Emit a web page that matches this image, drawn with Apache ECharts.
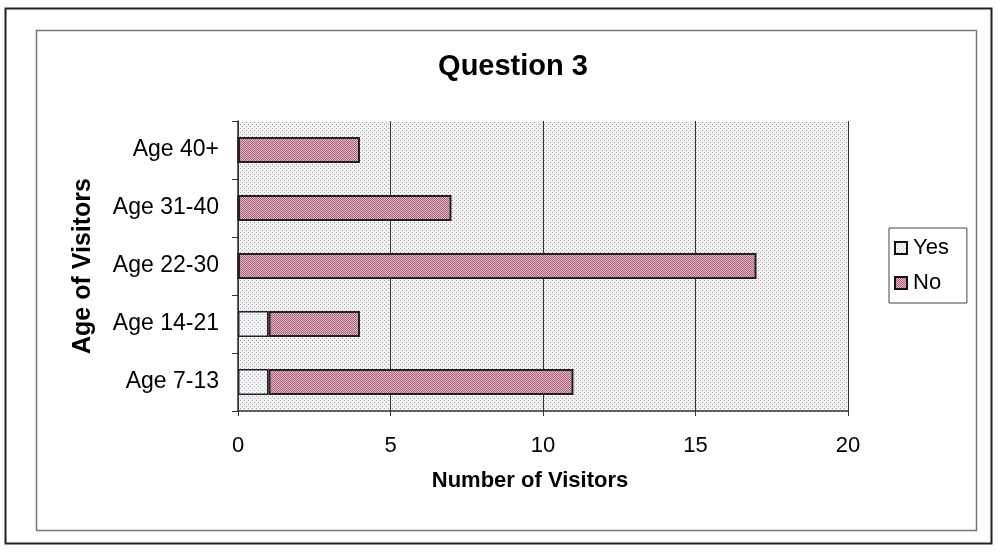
<!DOCTYPE html>
<html>
<head>
<meta charset="utf-8">
<script src="https://cdn.jsdelivr.net/npm/echarts@6/dist/echarts.min.js"></script>
<style>
html,body{margin:0;padding:0;background:#fff;}
#chart{width:1000px;height:553px;}
</style>
</head>
<body>
<div id="chart"></div>
<script>
const categories = ['Age 7-13', 'Age 14-21', 'Age 22-30', 'Age 31-40', 'Age 40+'];
const yesValues = [1, 1, 0, 0, 0];
const noValues = [10, 3, 17, 7, 4];
const xTicks = [0, 5, 10, 15, 20];

function dotPattern(base, dot, size) {
  const c = document.createElement('canvas');
  c.width = size; c.height = size;
  const g = c.getContext('2d');
  g.fillStyle = base; g.fillRect(0, 0, size, size);
  g.fillStyle = dot;
  g.fillRect(0, 0, 1, 1);
  g.fillRect(Math.floor(size / 2), Math.floor(size / 2), 1, 1);
  return { image: c, repeat: 'repeat' };
}

const bgPattern = dotPattern('#f1f1f1', '#a8a8a8', 4);
const pinkPattern = dotPattern('#e2b0c0', '#a86a80', 2);
const yesPattern = dotPattern('#f2f3f7', '#b9bcc4', 4);

const chart = echarts.init(document.getElementById('chart'), null, { renderer: 'canvas' });
const font = '"Liberation Sans", Arial, sans-serif';

chart.setOption({
  animation: false,
  textStyle: { fontFamily: font, color: '#000' },
  title: {
    text: 'Question 3',
    left: 508, top: 47, textAlign: 'center',
    textStyle: { fontFamily: font, fontSize: 29, fontWeight: 'bold', color: '#000' }
  },
  legend: {
    orient: 'vertical',
    left: 889, top: 228,
    padding: [9, 18, 9, 5],
    itemGap: 13,
    itemWidth: 12, itemHeight: 12,
    backgroundColor: '#fff',
    borderColor: '#444', borderWidth: 1,
    textStyle: { fontFamily: font, fontSize: 22, color: '#000', padding: [0, 0, 0, 1] },
    data: [
      { name: 'Yes', icon: 'rect', itemStyle: { color: yesPattern, borderColor: '#111', borderWidth: 2 } },
      { name: 'No', icon: 'rect', itemStyle: { color: pinkPattern, borderColor: '#111', borderWidth: 2 } }
    ]
  },
  grid: {
    left: 238, top: 121, right: 152, bottom: 142,
    show: true,
    backgroundColor: bgPattern,
    borderWidth: 0
  },
  xAxis: {
    type: 'value',
    min: xTicks[0], max: xTicks[xTicks.length - 1], interval: 5,
    name: 'Number of Visitors',
    nameLocation: 'middle',
    nameGap: 59,
    nameTextStyle: { fontFamily: font, fontSize: 22, fontWeight: 'bold', color: '#000', padding: [0, 26, 0, 0] },
    axisLine: { show: true, lineStyle: { color: '#333', width: 1.5 } },
    axisTick: { show: true, length: 5, lineStyle: { color: '#333' } },
    axisLabel: { fontFamily: font, fontSize: 22, color: '#000', margin: 24 },
    splitLine: { show: true, lineStyle: { color: '#333', width: 1 } }
  },
  yAxis: {
    type: 'category',
    data: categories,
    name: 'Age of Visitors',
    nameLocation: 'middle',
    nameGap: 142,
    nameRotate: 90,
    nameTextStyle: { fontFamily: font, fontSize: 25, fontWeight: 'bold', color: '#000', padding: [0, 0, 0, 0] },
    axisLine: { show: true, lineStyle: { color: '#333', width: 1.5 } },
    axisTick: { show: true, length: 6, lineStyle: { color: '#333' } },
    axisLabel: { fontFamily: font, fontSize: 23, color: '#000', margin: 19 },
    splitLine: { show: false }
  },
  series: [
    {
      name: 'Yes', type: 'bar', stack: 'total',
      data: yesValues,
      barWidth: 26,
      itemStyle: { color: yesPattern, borderColor: '#222', borderWidth: 1.5 }
    },
    {
      name: 'No', type: 'bar', stack: 'total',
      data: noValues,
      barWidth: 26,
      itemStyle: { color: pinkPattern, borderColor: '#222', borderWidth: 2 }
    }
  ],
  graphic: [
    { type: 'rect', silent: true, z: -10, shape: { x: 5.5, y: 8.5, width: 986, height: 535 },
      style: { fill: null, stroke: '#222', lineWidth: 2 } },
    { type: 'rect', silent: true, z: -10, shape: { x: 36.5, y: 30.5, width: 940, height: 500 },
      style: { fill: null, stroke: '#777', lineWidth: 1.5 } }
  ]
});
</script>
</body>
</html>
